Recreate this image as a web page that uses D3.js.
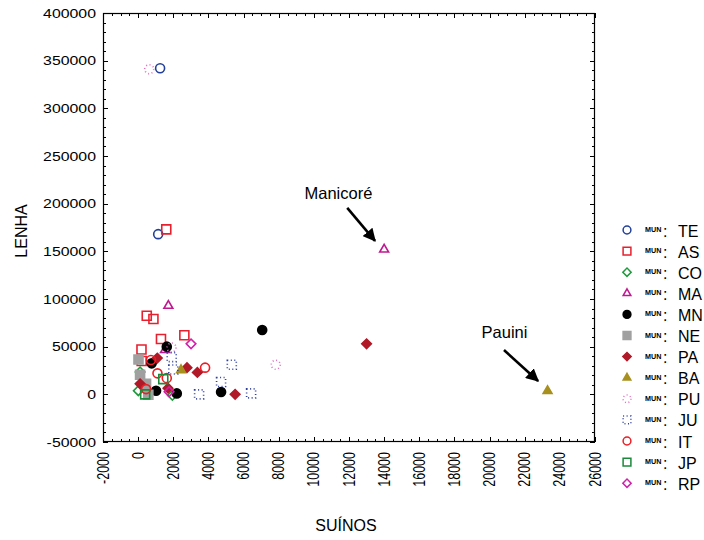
<!DOCTYPE html>
<html><head><meta charset="utf-8">
<script src="https://cdn.jsdelivr.net/npm/d3@7"></script>
<style>body{margin:0;background:#fff}svg{display:block}text{font-family:"Liberation Sans",Arial,sans-serif;fill:#000}</style>
</head><body><svg id="c" width="704" height="540"></svg>
<script>
// ---- data (SUÍNOS, LENHA) per municipality group ----
const seriesNames = ["TE","AS","CO","MA","MN","NE","PA","BA","PU","JU","IT","JP","RP"];
const TE = [[1250,342000],[1140,168000]];
const AS = [[1600,173000],[490,82500],[870,79000],[1300,58000],[2630,62000],[190,47000],[200,35000]];
const CO = [[10,3800],[110,23400],[1950,-1000]];
const MA = [[1720,93000],[1530,46500],[14000,152000]];
const MN = [[1630,50000],[770,32500],[1020,3800],[2200,1000],[4720,2400],[7060,67500]];
const NE = [[20,36500],[110,20500],[450,11000],[580,-500]];
const PA = [[13000,53000],[1090,38000],[2780,28000],[3370,23000],[110,11000],[1700,6500],[5520,0]];
const BA = [[23300,3500],[2440,25500]];
const PU = [[630,341000],[7830,31000],[1900,49000]];
const JU = [[1910,39000],[2000,26000],[3470,0],[4720,13000],[5330,31000],[6430,1000]];
const IT = [[730,36000],[3810,28000],[1100,22000],[1630,17000],[450,5500]];
const JP = [[1430,16000],[400,0]];
const RP = [[3010,53000],[1760,2700]];
const xTicks = d3.range(-2000, 26001, 2000);
const yTicks = d3.range(-50000, 400001, 50000);
const annotations = [
  {label:"Manicoré", tx:11400, ty:205000, x1:11900, y1:195500, x2:13480, y2:161000},
  {label:"Pauini",   tx:20850, ty:59000,  x1:20820, y1:46500,  x2:22760, y2:14000}
];

const seriesData = {TE,AS,CO,MA,MN,NE,PA,BA,PU,JU,IT,JP,RP};
const styles = {
  TE:{shape:"circle",  fill:"none",   stroke:"#22409a"},
  AS:{shape:"square",  fill:"none",   stroke:"#e8202e"},
  CO:{shape:"diamond", fill:"none",   stroke:"#1e9a3c"},
  MA:{shape:"triangle",fill:"none",   stroke:"#c01890"},
  MN:{shape:"circle",  fill:"#000",   stroke:"#000"},
  NE:{shape:"square",  fill:"#a0a0a0",stroke:"#a0a0a0"},
  PA:{shape:"diamond", fill:"#b01a28",stroke:"#b01a28"},
  BA:{shape:"triangle",fill:"#a8901e",stroke:"#a8901e"},
  PU:{shape:"circle",  fill:"none",   stroke:"#e070c0", dash:"1,2.5"},
  JU:{shape:"square",  fill:"none",   stroke:"#3040a0", dash:"1,2.5"},
  IT:{shape:"circle",  fill:"none",   stroke:"#ee1c24"},
  JP:{shape:"square",  fill:"none",   stroke:"#1a8a3a"},
  RP:{shape:"diamond", fill:"none",   stroke:"#d020a8"}
};
function symbolFor(shape, k){
  if(shape==="circle")  return d3.symbol().type(d3.symbolCircle).size(Math.PI*20.25*k);
  if(shape==="square")  return d3.symbol().type(d3.symbolSquare).size(81*k);
  if(shape==="diamond") return d3.symbol().type(d3.symbolSquare).size(46*k);
  return d3.symbol().type(d3.symbolTriangle).size(34*k);
}

const svg = d3.select("#c");
const L=103,R=595,T=13,B=442;
const x = d3.scaleLinear().domain([-2000,26000]).range([L,R]);
const y = d3.scaleLinear().domain([-50000,400000]).range([B,T]);

// minor + major ticks on all four sides, inward
const g = svg.append("g").attr("stroke","#000").attr("stroke-width",1);
d3.range(-2000,26001,500).forEach(v=>{
  const len = v%2000===0?5:3, px=Math.round(x(v))+0.5;
  g.append("line").attr("x1",px).attr("x2",px).attr("y1",B).attr("y2",B-len);
  g.append("line").attr("x1",px).attr("x2",px).attr("y1",T).attr("y2",T+len);
});
d3.range(-50000,400001,10000).forEach(v=>{
  const len = v%50000===0?5:3, py=Math.round(y(v))+0.5;
  g.append("line").attr("y1",py).attr("y2",py).attr("x1",L).attr("x2",L+len);
  g.append("line").attr("y1",py).attr("y2",py).attr("x1",R).attr("x2",R-len);
});
svg.append("rect").attr("x",L+0.5).attr("y",T+0.5).attr("width",R-L-1).attr("height",B-T-1)
  .attr("fill","none").attr("stroke","#000").attr("stroke-width",1.2);

// tick labels
svg.append("g").selectAll("text").data(yTicks).join("text")
  .attr("transform",d=>`translate(96,${y(d)}) scale(1.22,1)`)
  .attr("text-anchor","end").attr("dy","0.36em").attr("font-size",13).text(d=>d);
svg.append("g").selectAll("text").data(xTicks).join("text")
  .attr("transform",d=>`translate(${x(d)},452) rotate(-90) scale(1,1.25)`)
  .attr("text-anchor","end").attr("dy","0.36em").attr("font-size",12.5).text(d=>d);

// axis titles
svg.append("text").attr("transform","translate(27,231) rotate(-90)").attr("text-anchor","middle")
  .attr("font-size",16).text("LENHA");
svg.append("text").attr("x",346).attr("y",531).attr("text-anchor","middle").attr("font-size",16).text("SUÍNOS");

// points
seriesNames.forEach(name=>{
  const st = styles[name];
  svg.append("g").selectAll("path").data(seriesData[name]).join("path")
    .attr("d",symbolFor(st.shape,1))
    .attr("transform",d=>`translate(${x(d[0])},${y(d[1])})`+(st.shape==="diamond"?" rotate(45)":""))
    .attr("fill",st.fill).attr("stroke",st.stroke).attr("stroke-width",1.6)
    .attr("stroke-dasharray",st.dash||null);
});

// annotations
const defs = svg.append("defs");
defs.append("marker").attr("id","ah").attr("viewBox","0 0 10 10").attr("refX",9).attr("refY",5)
  .attr("markerWidth",5).attr("markerHeight",5).attr("orient","auto").attr("markerUnits","strokeWidth")
  .append("path").attr("d","M0,0 L10,5 L0,10 Z").attr("fill","#000");
annotations.forEach(a=>{
  svg.append("text").attr("x",x(a.tx)).attr("y",y(a.ty)).attr("text-anchor","middle").attr("font-size",16.5).text(a.label);
  svg.append("line").attr("x1",x(a.x1)).attr("y1",y(a.y1)).attr("x2",x(a.x2)).attr("y2",y(a.y2))
    .attr("stroke","#000").attr("stroke-width",2.6).attr("marker-end","url(#ah)");
});

// legend
const lg = svg.append("g");
seriesNames.forEach((name,i)=>{
  const st = styles[name], cy = 230 + i*21.1;
  lg.append("path").attr("d",symbolFor(st.shape,0.75))
    .attr("transform",`translate(627,${cy})`+(st.shape==="diamond"?" rotate(45)":""))
    .attr("fill",st.fill).attr("stroke",st.stroke).attr("stroke-width",1.5).attr("stroke-dasharray",st.dash||null);
  lg.append("text").attr("x",645).attr("y",cy+2).attr("font-size",7.2).attr("font-weight","bold").text("MUN");
  lg.append("text").attr("x",663).attr("y",cy+6.5).attr("font-size",16).text(":");
  lg.append("text").attr("x",678).attr("y",cy+6.5).attr("font-size",16).text(name);
});
</script></body></html>
